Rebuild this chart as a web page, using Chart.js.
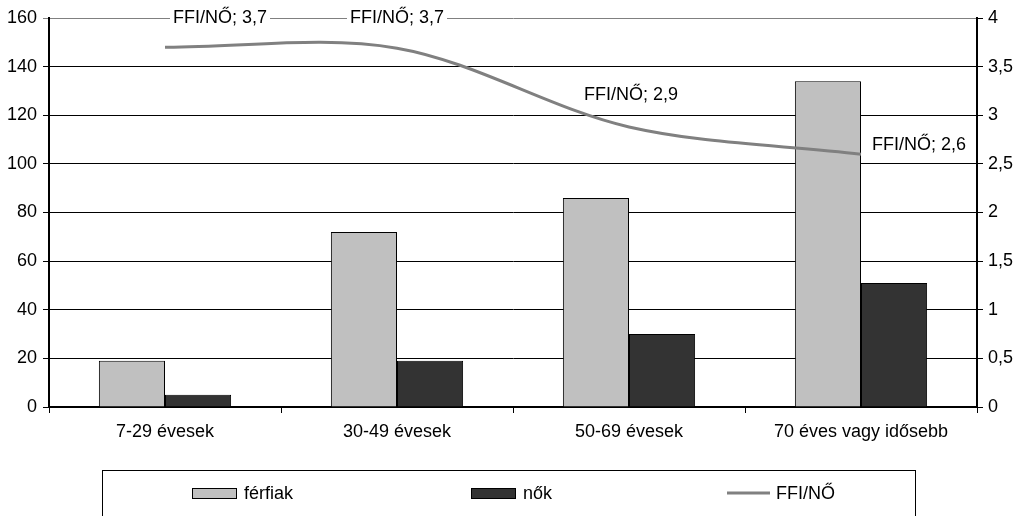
<!DOCTYPE html>
<html>
<head>
<meta charset="utf-8">
<title>FFI/NŐ</title>
<script src="https://cdn.jsdelivr.net/npm/chart.js@4/dist/chart.umd.min.js"></script>
<style>
  html, body { margin: 0; padding: 0; background: #fff; overflow: hidden; }
  #wrap { width: 1021px; height: 516px; }
</style>
</head>
<body>
<div id="wrap"><canvas id="ffiChart" width="1021" height="516"></canvas></div>
<script>
var categories = ["7-29 évesek", "30-49 évesek", "50-69 évesek", "70 éves vagy idősebb"];
var ferfiak = [19, 72, 86, 134];
var nok = [5, 19, 30, 51];
var ffiNo = [3.7, 3.69, 2.88, 2.6];
var leftTicks = [0, 20, 40, 60, 80, 100, 120, 140, 160];
var rightTicks = [0, 0.5, 1, 1.5, 2, 2.5, 3, 3.5, 4];

var FONT = "'Liberation Sans', Arial, sans-serif";

function comma(v) {
  return String(v).replace(".", ",");
}

// point labels of the ratio line, with white box behind (cuts the gridline)
var lineLabels = {
  id: "lineLabels",
  afterDatasetsDraw: function (chart, args, opts) {
    var meta = chart.getDatasetMeta(opts.dataset);
    var ds = chart.data.datasets[opts.dataset];
    var ctx = chart.ctx;
    ctx.save();
    ctx.font = "18px " + FONT;
    ctx.textBaseline = "middle";
    meta.data.forEach(function (pt, i) {
      var off = opts.offsets[i];
      var txt = ds.label + "; " + comma(Math.round(ds.data[i] * 10) / 10);
      var w = ctx.measureText(txt).width;
      var x = pt.x + off[0];
      var y = pt.y + off[1];
      if (off[2] === "center") x -= w / 2;
      ctx.fillStyle = "#fff";
      ctx.fillRect(x - 3, y - 10, w + 6, 20);
      ctx.fillStyle = "#000";
      ctx.textAlign = "left";
      ctx.fillText(txt, x, y);
    });
    ctx.restore();
  },
};

// boxed legend under the chart, cut by the bottom edge like the original
var boxLegend = {
  id: "boxLegend",
  afterDraw: function (chart, args, opts) {
    var ctx = chart.ctx;
    ctx.save();
    ctx.strokeStyle = "#000";
    ctx.lineWidth = 1;
    ctx.strokeRect(opts.left + 0.5, opts.top + 0.5, opts.right - opts.left, 80);
    ctx.font = "18px " + FONT;
    ctx.textBaseline = "middle";
    ctx.fillStyle = "#000";
    opts.items.forEach(function (it) {
      var ds = chart.data.datasets[it.dataset];
      var y = opts.top + 23;
      if (ds.type === "line") {
        ctx.strokeStyle = ds.borderColor;
        ctx.lineWidth = 3;
        ctx.beginPath();
        ctx.moveTo(it.x, y);
        ctx.lineTo(it.x + 43, y);
        ctx.stroke();
      } else {
        ctx.fillStyle = ds.backgroundColor;
        ctx.fillRect(it.x, y - 5, 45, 11);
        ctx.strokeStyle = "#000";
        ctx.lineWidth = 1;
        ctx.strokeRect(it.x + 0.5, y - 4.5, 44, 10);
      }
      ctx.fillStyle = "#000";
      ctx.fillText(ds.label, it.x + (ds.type === "line" ? 49 : 52), y + 1);
    });
    ctx.restore();
  },
};

function initChart() {
  var el = document.getElementById("ffiChart");
  new Chart(el, {
    type: "bar",
    data: {
      labels: categories,
      datasets: [
        {
          type: "line",
          label: "FFI/NŐ",
          data: ffiNo,
          yAxisID: "y1",
          borderColor: "#808080",
          borderWidth: 3,
          pointRadius: 0,
          tension: 0.33,
          fill: false,
          order: 0,
        },
        {
          label: "férfiak",
          data: ferfiak,
          yAxisID: "y",
          backgroundColor: "#c0c0c0",
          borderColor: "#000",
          borderWidth: 1,
          order: 1,
        },
        {
          label: "nők",
          data: nok,
          yAxisID: "y",
          backgroundColor: "#333333",
          borderColor: "#000",
          borderWidth: 1,
          order: 1,
        },
      ],
    },
    options: {
      responsive: false,
      animation: false,
      events: [],
      categoryPercentage: 0.57,
      barPercentage: 1,
      layout: { padding: { top: 18, left: 0, right: 0, bottom: 0 } },
      plugins: {
        legend: { display: false },
        tooltip: { enabled: false },
        lineLabels: {
          dataset: 0,
          offsets: [
            [55, -29, "center"],
            [0, -30, "center"],
            [2, -32, "center"],
            [11, -9, "left"],
          ],
        },
        boxLegend: {
          left: 102,
          right: 915,
          top: 470,
          items: [
            { dataset: 1, x: 192 },
            { dataset: 2, x: 471 },
            { dataset: 0, x: 727 },
          ],
        },
      },
      scales: {
        x: {
          offset: true,
          afterFit: function (s) { s.height = 109; },
          grid: { display: true, drawOnChartArea: false, offset: true, color: "#000", tickLength: 6 },
          border: { color: "#000", width: 2 },
          ticks: { color: "#000", font: { family: FONT, size: 18 }, padding: 8, maxRotation: 0 },
        },
        y: {
          position: "left",
          min: 0,
          max: 160,
          afterFit: function (s) { s.width = 49; },
          afterBuildTicks: function (s) {
            s.ticks = leftTicks.map(function (v) { return { value: v }; });
          },
          grid: {
            color: function (c) { return c.tick && c.tick.value === 160 ? "#808080" : "#000"; },
            lineWidth: 1,
            tickLength: 6,
          },
          border: { color: "#000", width: 2 },
          ticks: {
            color: "#000",
            font: { family: FONT, size: 18 },
            padding: 6,
            callback: function (v) { return comma(v); },
          },
        },
        y1: {
          position: "right",
          min: 0,
          max: 4,
          afterFit: function (s) { s.width = 44; },
          afterBuildTicks: function (s) {
            s.ticks = rightTicks.map(function (v) { return { value: v }; });
          },
          grid: { drawOnChartArea: false, color: "#000", tickLength: 6 },
          border: { color: "#000", width: 2 },
          ticks: {
            color: "#000",
            font: { family: FONT, size: 18 },
            padding: 5,
            callback: function (v) { return comma(v); },
          },
        },
      },
    },
    plugins: [lineLabels, boxLegend],
  });
}

if (document.readyState === "loading") {
  document.addEventListener("DOMContentLoaded", initChart);
} else {
  initChart();
}
</script>
</body>
</html>
